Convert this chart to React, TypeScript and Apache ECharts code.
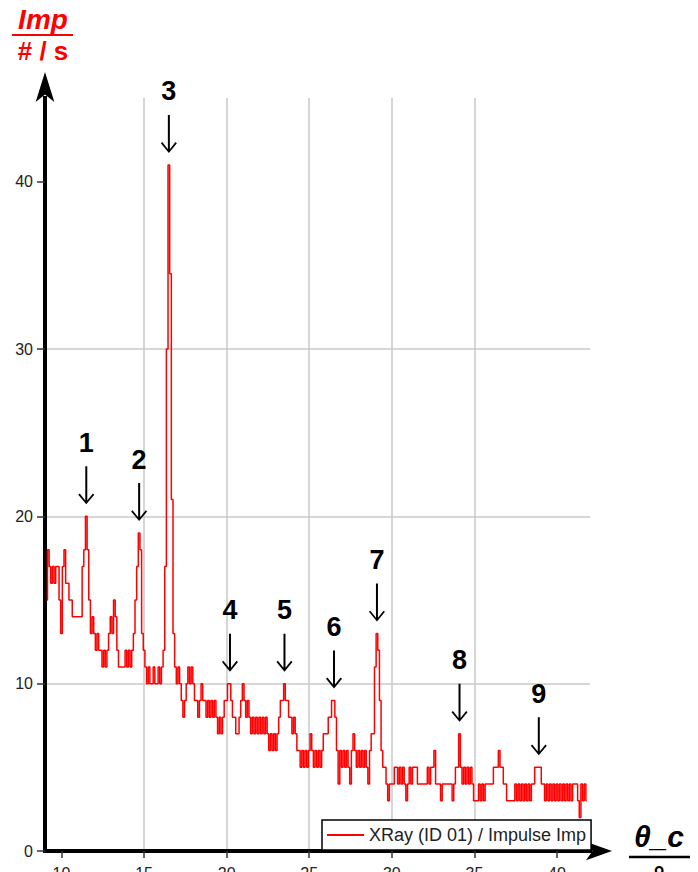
import React, { useEffect, useRef } from 'react';
import * as echarts from 'echarts';

// Sampling of the scan (degrees)
const startAngle = 9.1;
const angleStep = 0.1;

// Counts (Imp/s), 9.1° .. 14.8°
const countsA = [
  15, 18, 17, 16, 17, 16, 17, 17, 15, 13,
  17, 18, 16, 16, 15, 15, 14, 14, 14, 14,
  14, 14, 17, 18, 20, 18, 15, 13, 14, 13,
  12, 13, 12, 12, 11, 12, 11, 12, 13, 14,
  13, 15, 14, 12, 11, 11, 11, 11, 12, 11,
  12, 11, 12, 13, 15, 17, 19, 18,
];
// 14.9° .. 16.6°
const countsB = [13, 12, 11, 10, 11, 10, 10, 11, 10, 10, 11, 10, 11, 12, 17, 30, 41, 34.5];
// 16.7° .. 17.1°
const countsC = [21, 13, 11, 10, 11];
// 17.2° .. 24.2°
const countsD = [
  10, 9, 8, 9, 10, 11, 10, 11, 10, 9,
  9, 8, 9, 10, 9, 9, 8, 9, 8, 9,
  8, 9, 8, 7, 8, 7, 8, 9, 9, 10,
  10, 9, 8, 8, 7, 7, 8, 9, 10, 9,
  8, 9, 8, 7, 8, 7, 8, 7, 8, 7,
  8, 7, 8, 7, 6, 7, 6, 7, 6, 7,
  8, 9, 9, 10, 9, 9, 8, 8, 7, 8,
  7,
];
// 24.3° .. 30.3°
const countsE = [
  6, 6, 5, 6, 5, 6, 5, 6, 7, 6,
  5, 6, 5, 6, 5, 6, 7, 7, 7, 8,
  8, 9, 9, 8, 6, 4, 6, 5, 6, 5,
  6, 5, 4, 6, 7, 6, 5, 6, 5, 6,
  5, 6, 5, 4, 6, 7, 7, 11, 13, 12,
  9, 6, 5, 5, 4, 3, 4, 4, 4, 5,
  5,
];
// 30.4° .. 41.8°
const countsF = [
  4, 5, 4, 5, 4, 3, 4, 5, 4, 5,
  5, 5, 4, 4, 4, 4, 4, 4, 5, 4,
  5, 5, 6, 4, 4, 4, 3, 4, 4, 4,
  4, 4, 4, 3, 4, 5, 5, 7, 5, 4,
  5, 4, 5, 4, 5, 4, 3, 3, 3, 4,
  3, 4, 3, 4, 4, 4, 4, 4, 5, 5,
  5, 6, 5, 5, 4, 4, 3, 3, 3, 3,
  3, 4, 3, 4, 3, 4, 3, 4, 3, 4,
  3, 4, 4, 5, 5, 5, 5, 4, 4, 3,
  4, 3, 4, 3, 4, 3, 4, 3, 4, 3,
  4, 3, 4, 3, 4, 3, 4, 4, 4, 3,
  2, 4, 3, 4, 3,
];

const xTicks = [10, 15, 20, 25, 30, 35, 40];
const yTicks = [0, 10, 20, 30, 40];

// Numbered reflection annotations
const peakLabels = ['1', '2', '3', '4', '5', '6', '7', '8', '9'];
const peakAngles = [11.5, 14.7, 16.5, 20.2, 23.5, 26.5, 29.1, 34.1, 38.9];
const peakCounts = [20, 19, 41, 10, 10, 9, 13, 7, 5];

const seriesName = 'XRay (ID 01) / Impulse Imp';

const FONT = '"Liberation Sans", Arial, sans-serif';
const ARROW = 'path://M7,0 L9,0 L9,36 L14.6,28.6 L16,29.8 L8,40 L0,29.8 L1.4,28.6 L7,36 Z';

export default function App() {
  const ref = useRef<HTMLDivElement>(null);

  useEffect(() => {
    if (!ref.current) return;
    const chart = echarts.init(ref.current, null, { renderer: 'svg' });
    const counts = [...countsA, ...countsB, ...countsC, ...countsD, ...countsE, ...countsF];
    const data = counts.map((c, i) => [Math.round((startAngle + i * angleStep) * 10) / 10, c]);

    const gridLine = { color: '#c8c8c8', width: 1.5 };

    chart.setOption({
      animation: false,
      backgroundColor: '#ffffff',
      textStyle: { fontFamily: FONT },
      grid: {
        left: 45,
        right: 108,
        top: 98,
        bottom: 21,
        containLabel: false,
        outerBoundsMode: 'none',
      },
      xAxis: {
        type: 'value',
        min: 9,
        max: 42,
        axisLine: {
          show: true,
          onZero: false,
          lineStyle: { color: '#000', width: 4, cap: 'square' },
          symbol: ['none', 'arrow'],
          symbolSize: [14, 26],
          symbolOffset: [0, 22],
        },
        axisTick: { show: true, length: 7, customValues: xTicks, lineStyle: { color: '#333', width: 1.5 } },
        axisLabel: { customValues: xTicks, margin: 14, fontSize: 16, color: '#222', fontFamily: FONT },
        splitLine: { show: true, showMinLine: false, showMaxLine: false, lineStyle: gridLine },
      },
      yAxis: {
        type: 'value',
        min: 0,
        max: 45,
        interval: 10,
        axisLine: {
          show: true,
          onZero: false,
          lineStyle: { color: '#000', width: 4, cap: 'square' },
          symbol: ['none', 'arrow'],
          symbolSize: [14, 30],
          symbolOffset: [0, 26],
        },
        axisTick: { show: true, length: 8, customValues: yTicks, lineStyle: { color: '#333', width: 1.5 } },
        axisLabel: { customValues: yTicks, margin: 12, fontSize: 16, color: '#222', fontFamily: FONT },
        splitLine: { show: true, showMinLine: false, showMaxLine: false, lineStyle: gridLine },
      },
      legend: {
        show: true,
        left: 322,
        top: 820,
        padding: [5, 5, 5, 5],
        itemWidth: 37,
        itemHeight: 2,
        itemGap: 0,
        backgroundColor: '#ffffff',
        borderColor: '#000',
        borderWidth: 1.5,
        borderRadius: 0,
        textStyle: { fontSize: 18, color: '#222', fontFamily: FONT, lineHeight: 20 },
        data: [{ name: seriesName, icon: 'rect' }],
      },
      series: [
        {
          type: 'line',
          name: seriesName,
          data,
          step: 'middle',
          symbol: 'none',
          showSymbol: false,
          lineStyle: { color: '#ff0000', width: 1.5 },
          itemStyle: { color: '#ff0000' },
          markPoint: {
            symbol: ARROW,
            symbolSize: [16, 38],
            symbolOffset: [0, -31],
            itemStyle: { color: '#000' },
            label: {
              show: true,
              position: 'top',
              distance: 10,
              formatter: '{b}',
              fontSize: 27,
              fontWeight: 'bold',
              color: '#000',
              fontFamily: FONT,
            },
            data: peakLabels.map((l, i) => ({ name: l, coord: [peakAngles[i], peakCounts[i]] })),
          },
        },
      ],
      graphic: [
        {
          type: 'text',
          x: 43,
          y: 19,
          style: {
            text: 'Imp',
            fill: '#ff0000',
            font: `italic bold 28px ${FONT}`,
            align: 'center',
            verticalAlign: 'middle',
          },
        },
        {
          type: 'line',
          shape: { x1: 12, y1: 35, x2: 73, y2: 35 },
          style: { stroke: '#ff0000', lineWidth: 2 },
        },
        {
          type: 'text',
          x: 43,
          y: 51,
          style: {
            text: '# / s',
            fill: '#ff0000',
            font: `bold 26px ${FONT}`,
            align: 'center',
            verticalAlign: 'middle',
          },
        },
        {
          type: 'text',
          x: 659,
          y: 836,
          style: {
            text: 'θ_c',
            fill: '#000',
            font: `italic bold 30px ${FONT}`,
            align: 'center',
            verticalAlign: 'middle',
          },
        },
        {
          type: 'line',
          shape: { x1: 629, y1: 857, x2: 690, y2: 857 },
          style: { stroke: '#000', lineWidth: 2.5 },
        },
        {
          type: 'text',
          x: 659,
          y: 862,
          style: {
            text: '°',
            fill: '#000',
            font: `bold 28px ${FONT}`,
            align: 'center',
            verticalAlign: 'top',
          },
        },
      ],
    });

    return () => chart.dispose();
  }, []);

  return (
    <div
      ref={ref}
      style={{ position: 'fixed', left: 0, top: 0, width: 698, height: 872, background: '#fff' }}
    />
  );
}
